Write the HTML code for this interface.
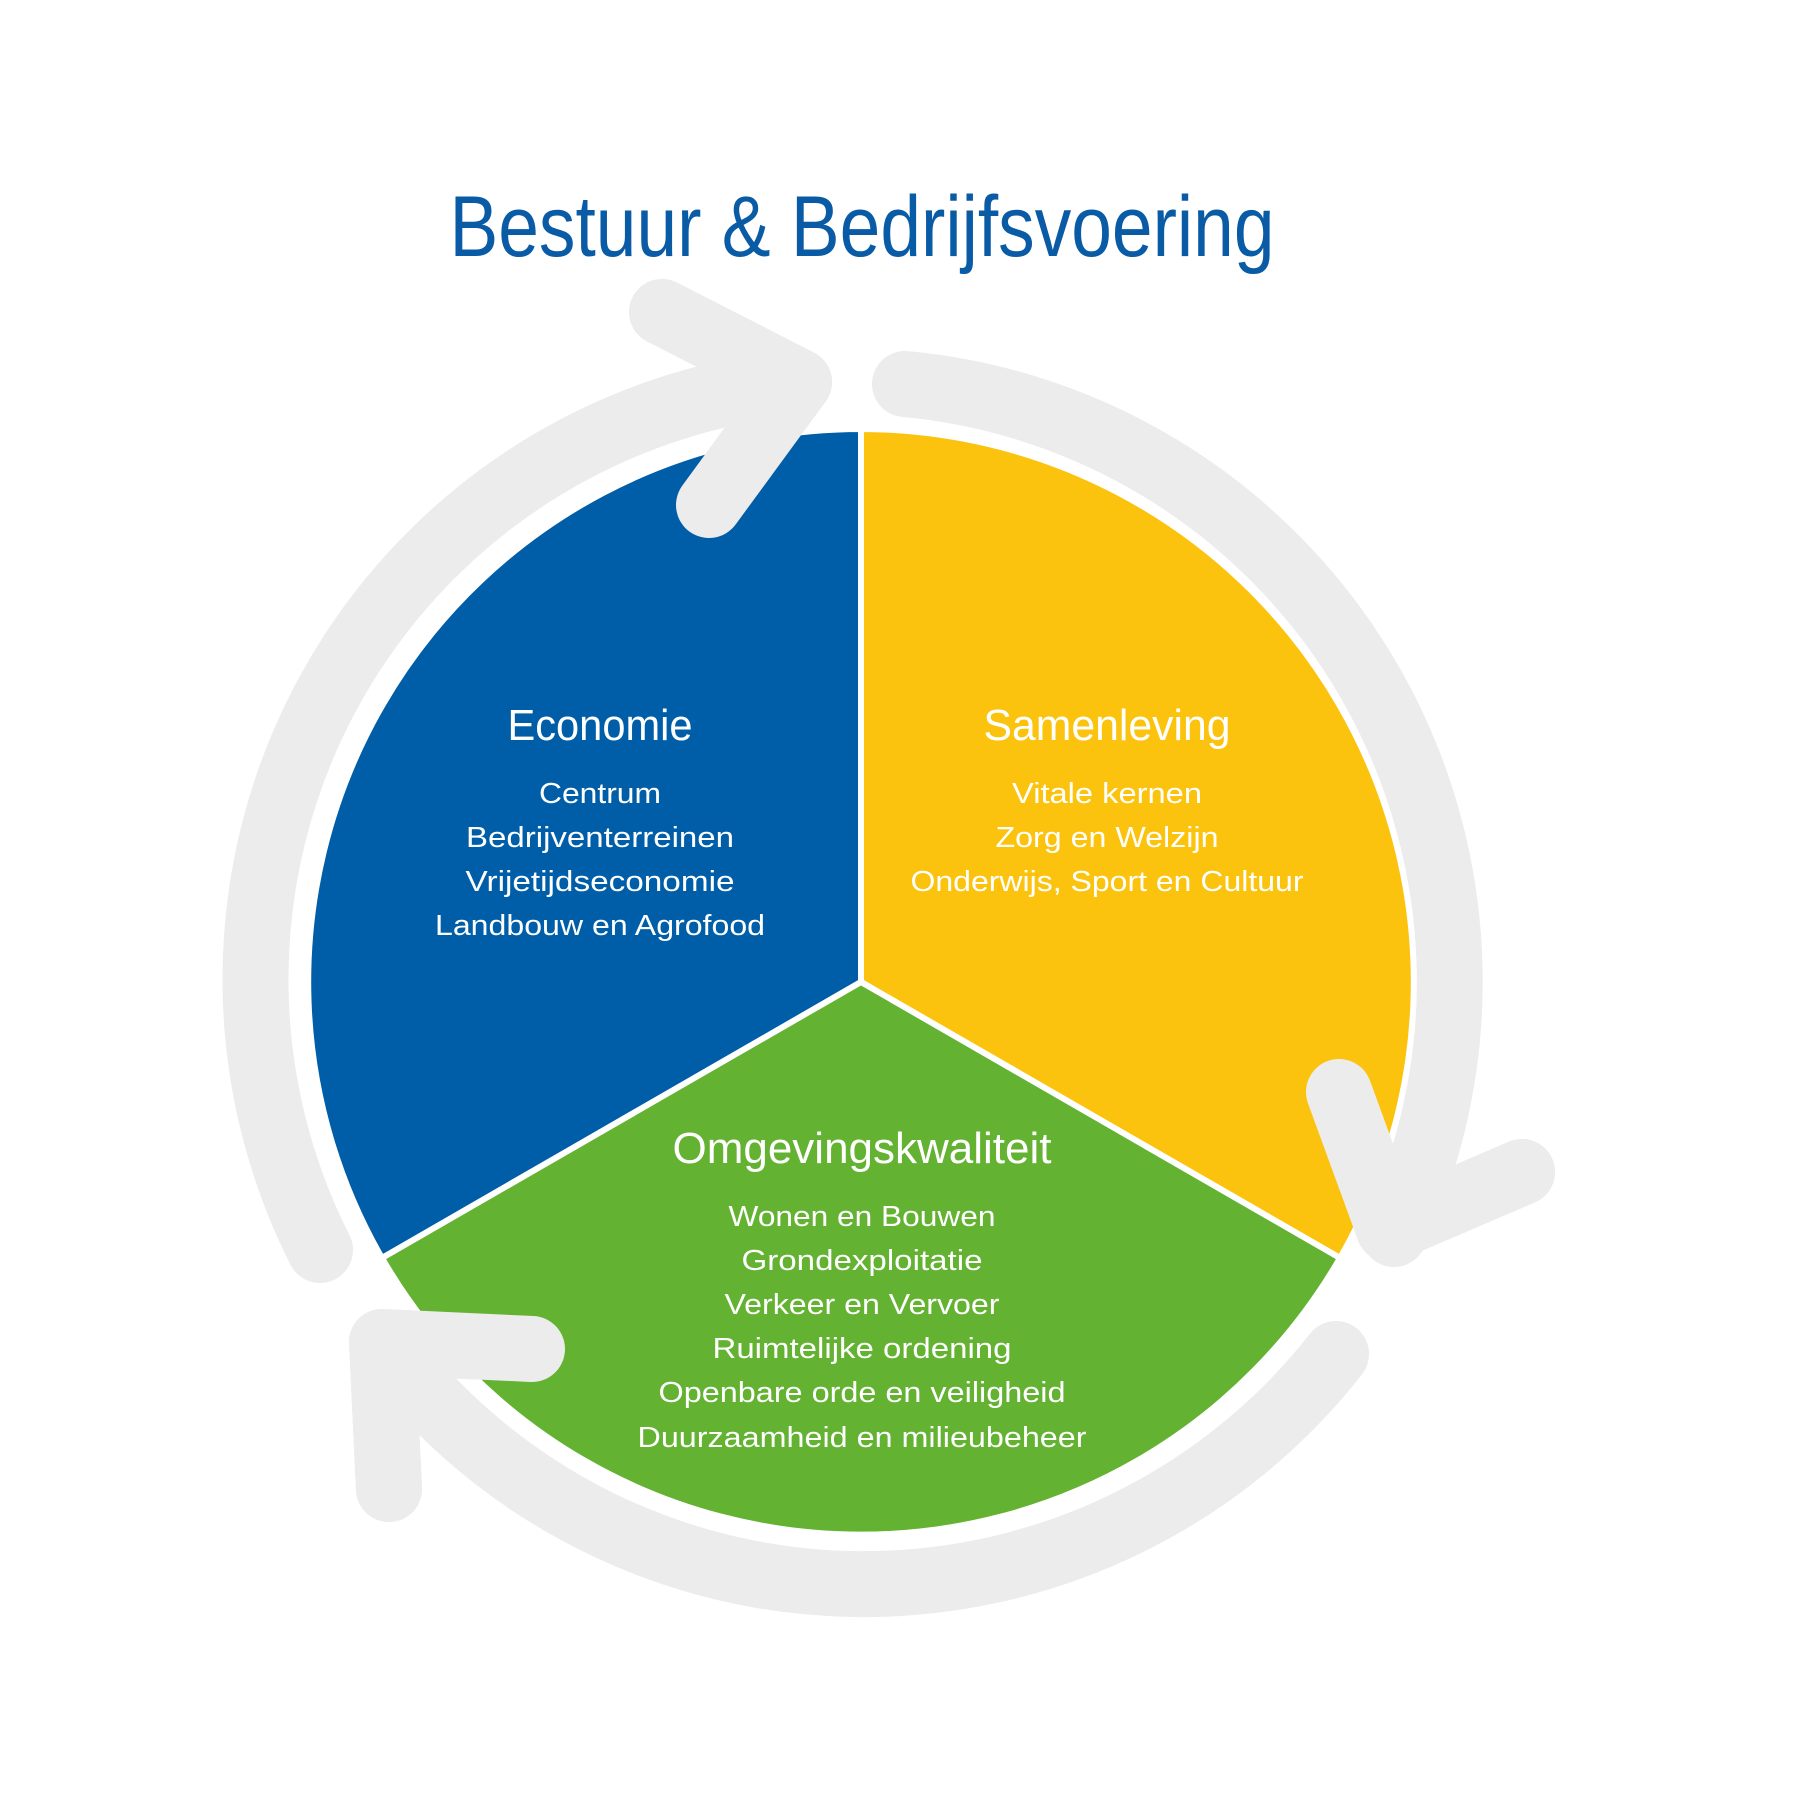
<!DOCTYPE html>
<html><head><style>html,body{margin:0;padding:0;background:#fff}svg{display:block}</style></head>
<body>
<svg width="1800" height="1800" viewBox="0 0 1800 1800" xmlns="http://www.w3.org/2000/svg" font-family="'Liberation Sans', sans-serif">
<rect width="1800" height="1800" fill="#fff"/>
<g transform="translate(-8,-8)">
<g fill="none" stroke="#ececec" stroke-width="66" stroke-linecap="round" stroke-linejoin="round">
<path d="M328,1258 A600,600 0 0 1 807,390"/>
<path d="M670,320 L807,390 L717,513"/>
<path d="M913,392 A600,600 0 0 1 1402,1242"/>
<path d="M1347,1100 L1397,1237 L1530,1180"/>
<path d="M1344,1362 A600,600 0 0 1 390,1350"/>
<path d="M540,1357 L390,1350 L397,1497"/>
</g>
<g stroke="#fff" stroke-width="6" stroke-linejoin="round">
<path d="M869,990 L869,437 A553,553 0 0 0 390,1266 Z" fill="#005ea8"/>
<path d="M869,990 L869,437 A553,553 0 0 1 1348,1266 Z" fill="#fbc30d"/>
<path d="M869,990 L1348,1266 A553,553 0 0 1 390,1266 Z" fill="#63b232"/>
</g>
<g fill="none" stroke="#ececec" stroke-width="66" stroke-linecap="round" stroke-linejoin="round">
<path d="M670,320 L807,390 L717,513"/>
<path d="M1347,1100 L1397,1237 L1530,1180"/>
<path d="M540,1357 L390,1350 L397,1497"/>
</g>
<text x="870" y="264" text-anchor="middle" font-size="86" fill="#0a5ba6" textLength="825" lengthAdjust="spacingAndGlyphs">Bestuur &amp; Bedrijfsvoering</text>
<g fill="#fff" text-anchor="middle">
<text x="608" y="748" font-size="44" textLength="185" lengthAdjust="spacingAndGlyphs">Economie</text>
<g font-size="29">
<text x="608" y="811" textLength="122" lengthAdjust="spacingAndGlyphs">Centrum</text>
<text x="608" y="855" textLength="268" lengthAdjust="spacingAndGlyphs">Bedrijventerreinen</text>
<text x="608" y="899" textLength="269" lengthAdjust="spacingAndGlyphs">Vrijetijdseconomie</text>
<text x="608" y="943" textLength="330" lengthAdjust="spacingAndGlyphs">Landbouw en Agrofood</text>
</g>
<text x="1115" y="748" font-size="44" textLength="247" lengthAdjust="spacingAndGlyphs">Samenleving</text>
<g font-size="29">
<text x="1115" y="811" textLength="190" lengthAdjust="spacingAndGlyphs">Vitale kernen</text>
<text x="1115" y="855" textLength="223" lengthAdjust="spacingAndGlyphs">Zorg en Welzijn</text>
<text x="1115" y="899" textLength="393" lengthAdjust="spacingAndGlyphs">Onderwijs, Sport en Cultuur</text>
</g>
<text x="870" y="1171" font-size="44" textLength="379" lengthAdjust="spacingAndGlyphs">Omgevingskwaliteit</text>
<g font-size="29">
<text x="870" y="1234" textLength="267" lengthAdjust="spacingAndGlyphs">Wonen en Bouwen</text>
<text x="870" y="1278" textLength="241" lengthAdjust="spacingAndGlyphs">Grondexploitatie</text>
<text x="870" y="1322" textLength="275" lengthAdjust="spacingAndGlyphs">Verkeer en Vervoer</text>
<text x="870" y="1366" textLength="299" lengthAdjust="spacingAndGlyphs">Ruimtelijke ordening</text>
<text x="870" y="1410" textLength="407" lengthAdjust="spacingAndGlyphs">Openbare orde en veiligheid</text>
<text x="870" y="1455" textLength="449" lengthAdjust="spacingAndGlyphs">Duurzaamheid en milieubeheer</text>
</g>
</g>
</g>
</svg>
</body></html>
